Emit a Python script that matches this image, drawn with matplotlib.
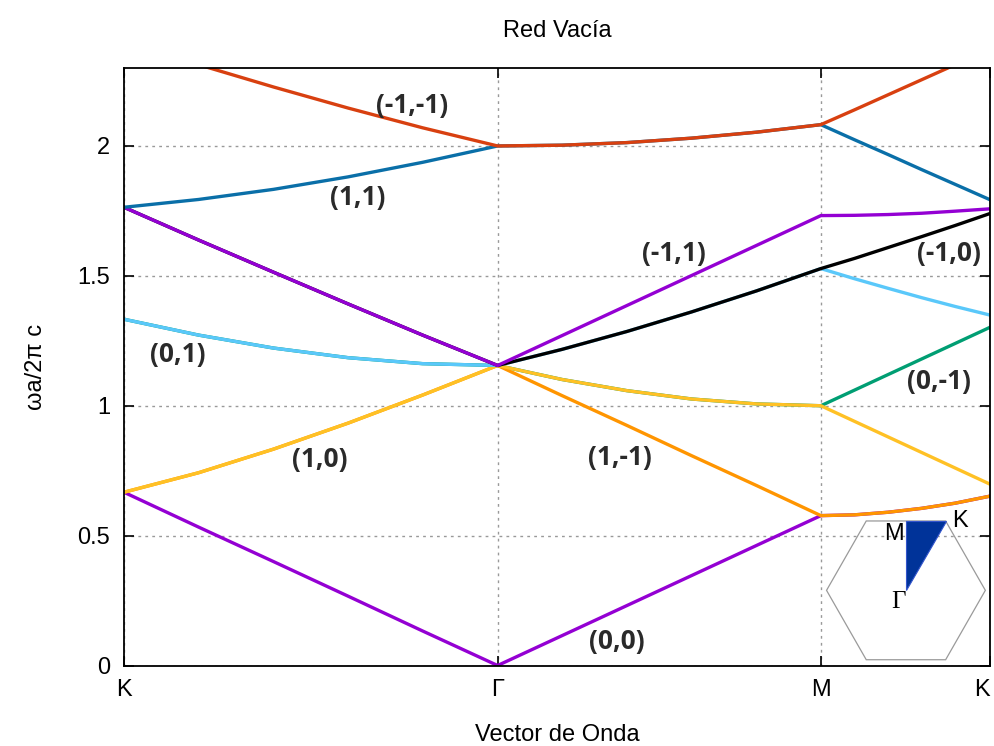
import matplotlib
matplotlib.use("Agg")
import matplotlib.pyplot as plt
from matplotlib.patches import Polygon

# path K -> Gamma -> M -> K, distances in units of 2*pi/a
path_x = [0.000, 0.133, 0.267, 0.400, 0.533, 0.667,
          0.782, 0.898, 1.013, 1.129, 1.244,
          1.304, 1.364, 1.424, 1.484, 1.546]
tick_pos = [0.000, 0.667, 1.244, 1.546]
tick_lab = ["K", "Γ", "M", "K"]

# empty-lattice bands, omega a / 2 pi c, drawn bottom to top
w_00 = [0.667, 0.533, 0.400, 0.267, 0.133, 0.000,
        0.115, 0.231, 0.346, 0.462, 0.577,
        0.580, 0.590, 0.605, 0.625, 0.652]
w_0m1 = [1.333, 1.272, 1.222, 1.185, 1.162, 1.155,
         1.101, 1.058, 1.026, 1.007, 1.000,
         1.060, 1.120, 1.180, 1.240, 1.302]
w_1m1 = [0.667, 0.742, 0.833, 0.933, 1.041, 1.155,
         1.039, 0.924, 0.808, 0.693, 0.577,
         0.580, 0.590, 0.605, 0.625, 0.652]
w_10 = [0.667, 0.742, 0.833, 0.933, 1.041, 1.155,
        1.101, 1.058, 1.026, 1.007, 1.000,
        0.940, 0.880, 0.820, 0.760, 0.698]
w_01 = [1.333, 1.272, 1.222, 1.185, 1.162, 1.155,
        1.217, 1.286, 1.361, 1.442, 1.528,
        1.489, 1.452, 1.416, 1.382, 1.349]
w_m10 = [1.764, 1.638, 1.514, 1.392, 1.272, 1.155,
         1.217, 1.286, 1.361, 1.442, 1.528,
         1.567, 1.609, 1.651, 1.694, 1.740]
w_m11 = [1.764, 1.638, 1.514, 1.392, 1.272, 1.155,
         1.270, 1.386, 1.501, 1.617, 1.732,
         1.733, 1.736, 1.741, 1.749, 1.758]
w_11 = [1.764, 1.794, 1.833, 1.881, 1.937, 2.000,
        2.003, 2.013, 2.030, 2.053, 2.082,
        2.024, 1.967, 1.909, 1.852, 1.793]
w_m1m1 = [2.404, 2.313, 2.227, 2.146, 2.070, 2.000,
          2.003, 2.013, 2.030, 2.053, 2.082,
          2.139, 2.197, 2.255, 2.313, 2.373]

bands = [w_00, w_0m1, w_1m1, w_10, w_01, w_m10, w_m11, w_11, w_m1m1]
colors = ["#9400d3", "#009e73", "#ff9500", "#ffc125", "#5ac8fa",
          "#000000", "#9400d3", "#0a6fa8", "#d84010"]

band_labels = ["(-1,-1)", "(1,1)", "(0,1)", "(1,0)", "(-1,1)",
               "(-1,0)", "(0,-1)", "(1,-1)", "(0,0)"]
label_xy = [(0.514, 2.156), (0.417, 1.802), (0.096, 1.198), (0.349, 0.794),
            (0.981, 1.587), (1.472, 1.587), (1.454, 1.092), (0.885, 0.800),
            (0.880, 0.094)]

sans = "Liberation Sans"
fig = plt.figure(figsize=(9.95, 7.46), dpi=100)
ax = fig.add_axes([0.1246, 0.1079, 0.8704, 0.8009])

for w, c in zip(bands, colors):
    ax.plot(path_x, w, color=c, lw=2.4, solid_joinstyle="round")

for txt, (x, y) in zip(band_labels, label_xy):
    ax.text(x, y, txt, ha="center", va="center", fontsize=19,
            fontweight="bold", family="Open Sans", color="#2a2a2a")

ax.set_xlim(tick_pos[0], tick_pos[-1])
ax.set_ylim(0, 2.3)
ax.set_xticks(tick_pos)
ax.set_xticklabels(tick_lab, family=sans, fontsize=17)
ax.get_xticklabels()[-1].set_horizontalalignment("right")
ax.set_yticks([0, 0.5, 1, 1.5, 2])
ax.set_yticklabels(["0", "0.5", "1", "1.5", "2"], family=sans, fontsize=17)
ax.tick_params(direction="in", length=7, width=1.2, top=True, right=True,
               labeltop=False, labelright=False, pad=10)
ax.grid(True, color="#999999", ls=(0, (2, 3)), lw=1)
for s in ax.spines.values():
    s.set_linewidth(1.3)

ax.set_title("Red Vacía", family=sans, fontsize=17, pad=22)
ax.set_xlabel("Vector de Onda", family=sans, fontsize=17, labelpad=16)
ax.set_ylabel("ωa/2π c", family=sans, fontsize=17, labelpad=22)

# first Brillouin zone sketch with the irreducible wedge
ins = fig.add_axes([0.8291, 0.1135, 0.1628, 0.1903])
ins.set_xlim(-1.02, 1.02)
ins.set_ylim(-0.886, 0.886)
ins.axis("off")
hexagon = [(-1, 0), (-0.5, -0.866), (0.5, -0.866), (1, 0), (0.5, 0.866), (-0.5, 0.866)]
ins.add_patch(Polygon(hexagon, closed=True, fill=False, ec="#9a9a9a", lw=0.9))
ins.add_patch(Polygon([(0, 0), (0, 0.866), (0.5, 0.866)], closed=True,
                      fc="#003399", ec="#3355cc", lw=0.8))
ins.text(-0.03, 0.70, "M", ha="right", va="center", family=sans, fontsize=17)
ins.text(0.58, 0.86, "K", ha="left", va="center", family=sans, fontsize=17)
ins.text(-0.09, -0.15, "Γ", ha="center", va="center", family="Liberation Serif", fontsize=18)

fig.savefig("out.png", dpi=100)
